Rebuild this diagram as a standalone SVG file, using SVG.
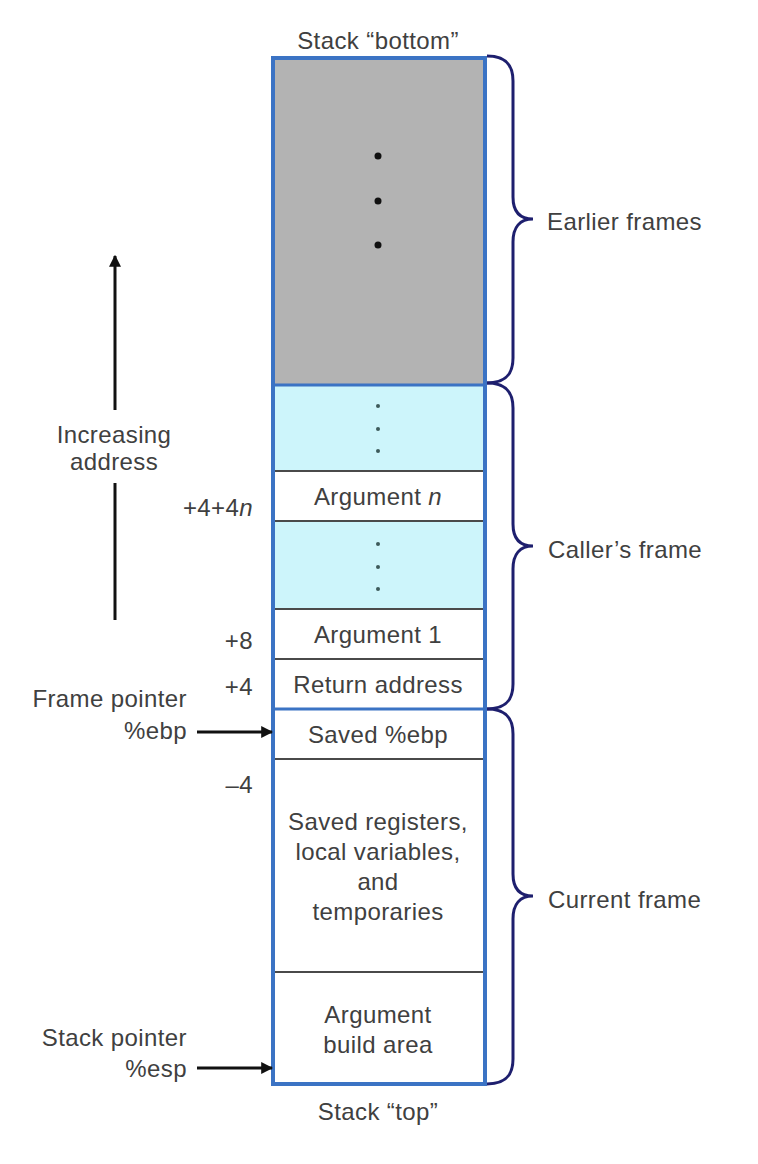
<svg xmlns="http://www.w3.org/2000/svg" width="758" height="1164" viewBox="0 0 758 1164">
<style>
text{font-family:"Liberation Sans",Arial,sans-serif;font-size:24px;letter-spacing:0.4px;fill:#404040}
.c{text-anchor:middle}
.r{text-anchor:end}
.div{stroke:#4a4a4a;stroke-width:2}
.bdiv{stroke:#3b73c4;stroke-width:3}
.brace{fill:none;stroke:#1e1f6e;stroke-width:3}
.arr{stroke:#111;stroke-width:3;fill:none}
</style>
<defs>
<marker id="ah" viewBox="0 0 10 10" refX="9" refY="5" markerWidth="4" markerHeight="4" orient="auto">
<path d="M0,0 L10,5 L0,10 z" fill="#111"/>
</marker>
</defs>
<rect width="758" height="1164" fill="#fff"/>

<g id="stack">
<g id="earlier-area">
<rect x="273" y="58" width="212" height="327" fill="#b3b3b3"/>
<circle cx="378" cy="156" r="3.5" fill="#111"/>
<circle cx="378" cy="201" r="3.5" fill="#111"/>
<circle cx="378" cy="245" r="3.5" fill="#111"/>
</g>
<g id="caller-dots-1">
<rect x="273" y="385" width="212" height="86" fill="#cdf5fb"/>
<circle cx="378" cy="406" r="2" fill="#3d5a5a"/>
<circle cx="378" cy="429" r="2" fill="#3d5a5a"/>
<circle cx="378" cy="451" r="2" fill="#3d5a5a"/>
</g>
<g id="arg-n">
<rect x="273" y="471" width="212" height="50" fill="#fff"/>
<text class="c" x="378" y="505">Argument <tspan font-style="italic">n</tspan></text>
</g>
<g id="caller-dots-2">
<rect x="273" y="521" width="212" height="88" fill="#cdf5fb"/>
<circle cx="378" cy="544" r="2" fill="#3d5a5a"/>
<circle cx="378" cy="567" r="2" fill="#3d5a5a"/>
<circle cx="378" cy="589" r="2" fill="#3d5a5a"/>
</g>
<g id="arg-1">
<text class="c" x="378" y="643">Argument 1</text>
</g>
<g id="ret-addr">
<text class="c" x="378" y="693">Return address</text>
</g>
<g id="saved-ebp">
<text class="c" x="378" y="743">Saved %ebp</text>
</g>
<g id="saved-regs">
<text class="c" x="378" y="830">Saved registers,</text>
<text class="c" x="378" y="860">local variables,</text>
<text class="c" x="378" y="890">and</text>
<text class="c" x="378" y="920">temporaries</text>
</g>
<g id="arg-build">
<text class="c" x="378" y="1023">Argument</text>
<text class="c" x="378" y="1053">build area</text>
</g>
<line class="div" x1="273" y1="471" x2="485" y2="471"/>
<line class="div" x1="273" y1="521" x2="485" y2="521"/>
<line class="div" x1="273" y1="609" x2="485" y2="609"/>
<line class="div" x1="273" y1="659" x2="485" y2="659"/>
<line class="div" x1="273" y1="759" x2="485" y2="759"/>
<line class="div" x1="273" y1="972" x2="485" y2="972"/>
<line class="bdiv" x1="273" y1="385" x2="485" y2="385"/>
<line class="bdiv" x1="273" y1="709" x2="485" y2="709"/>
<rect x="273" y="58" width="212" height="1026" fill="none" stroke="#3b73c4" stroke-width="4"/>
</g>

<g id="labels">
<text class="c" x="378" y="49">Stack “bottom”</text>
<text class="c" x="378" y="1120">Stack “top”</text>
<text class="r" x="253" y="516">+4+4<tspan font-style="italic">n</tspan></text>
<text class="r" x="253" y="649">+8</text>
<text class="r" x="253" y="695">+4</text>
<text class="r" x="253" y="793">–4</text>
<text class="r" x="187" y="707">Frame pointer</text>
<text class="r" x="187" y="739">%ebp</text>
<text class="r" x="187" y="1046">Stack pointer</text>
<text class="r" x="187" y="1077">%esp</text>
<text class="c" x="114" y="443">Increasing</text>
<text class="c" x="114" y="470">address</text>
</g>

<g id="braces">
<g id="earlier-frames">
<path class="brace" d="M487 56 C505 56 513 64 513 81 L513 197 C513 212 520 219 533 219 C520 219 513 227 513 242 L513 358 C513 375 505 383 487 383"/>
<text x="547" y="230">Earlier frames</text>
</g>
<g id="callers-frame">
<path class="brace" d="M487 383 C505 383 513 391 513 408 L513 524 C513 539 520 546 533 546 C520 546 513 554 513 569 L513 684 C513 701 505 709 487 709"/>
<text x="548" y="558">Caller’s frame</text>
</g>
<g id="current-frame">
<path class="brace" d="M487 709 C505 709 513 717 513 734 L513 874 C513 889 520 896 533 896 C520 896 513 904 513 919 L513 1059 C513 1076 505 1084 487 1084"/>
<text x="548" y="908">Current frame</text>
</g>
</g>

<g id="connectors">
<line class="arr" x1="115" y1="410" x2="115" y2="256" marker-end="url(#ah)"/>
<line class="arr" x1="115" y1="483" x2="115" y2="620"/>
<line class="arr" x1="197" y1="732" x2="272" y2="732" marker-end="url(#ah)" stroke-width="2.5"/>
<line class="arr" x1="197" y1="1068" x2="272" y2="1068" marker-end="url(#ah)" stroke-width="2.5"/>
</g>
</svg>
